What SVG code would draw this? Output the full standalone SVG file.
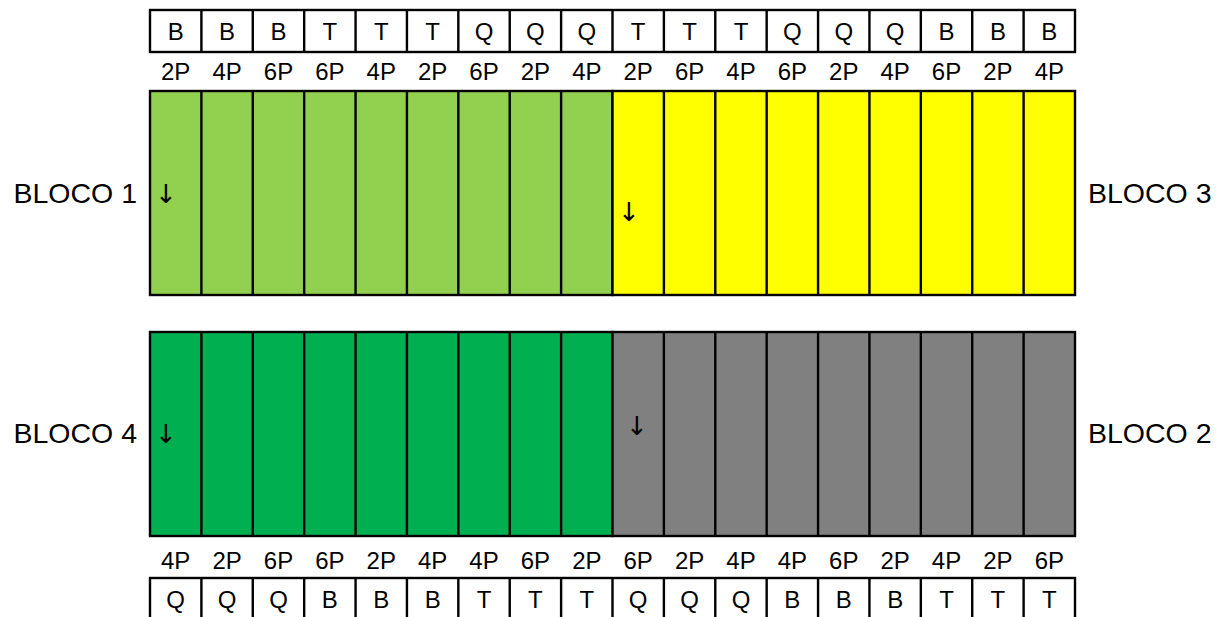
<svg xmlns="http://www.w3.org/2000/svg" width="1226" height="617" viewBox="0 0 1226 617">
<style>
.t{font-family:"Liberation Sans",Arial,sans-serif;font-size:24px;fill:#000;text-anchor:middle}
.b{font-family:"Liberation Sans",Arial,sans-serif;font-size:28.5px;fill:#000}
.a{font-family:"DejaVu Sans",sans-serif;font-size:26px;fill:#000;text-anchor:middle}
.ln{stroke:#000;stroke-width:2.4}
.w{fill:#fff}.g1{fill:#92D050}.y{fill:#FFFF00}.g2{fill:#00B050}.gr{fill:#808080}
.nf{fill:none}
</style>
<rect width="1226" height="617" fill="#fff"/>
<g id="top-codes">
<rect x="150" y="10" width="925" height="42" class="ln w"/>
<path class="ln nf" d="M201.39 10V52M252.78 10V52M304.17 10V52M355.56 10V52M406.94 10V52M458.33 10V52M509.72 10V52M561.11 10V52M612.5 10V52M663.89 10V52M715.28 10V52M766.67 10V52M818.06 10V52M869.44 10V52M920.83 10V52M972.22 10V52M1023.61 10V52"/>
<g class="t">
<text x="175.69" y="40">B</text><text x="227.08" y="40">B</text><text x="278.47" y="40">B</text><text x="329.86" y="40">T</text><text x="381.25" y="40">T</text><text x="432.64" y="40">T</text><text x="484.03" y="40">Q</text><text x="535.42" y="40">Q</text><text x="586.81" y="40">Q</text><text x="638.19" y="40">T</text><text x="689.58" y="40">T</text><text x="740.97" y="40">T</text><text x="792.36" y="40">Q</text><text x="843.75" y="40">Q</text><text x="895.14" y="40">Q</text><text x="946.53" y="40">B</text><text x="997.92" y="40">B</text><text x="1049.31" y="40">B</text>
</g>
</g>
<g id="top-doses" class="t">
<text x="175.69" y="80">2P</text><text x="227.08" y="80">4P</text><text x="278.47" y="80">6P</text><text x="329.86" y="80">6P</text><text x="381.25" y="80">4P</text><text x="432.64" y="80">2P</text><text x="484.03" y="80">6P</text><text x="535.42" y="80">2P</text><text x="586.81" y="80">4P</text><text x="638.19" y="80">2P</text><text x="689.58" y="80">6P</text><text x="740.97" y="80">4P</text><text x="792.36" y="80">6P</text><text x="843.75" y="80">2P</text><text x="895.14" y="80">4P</text><text x="946.53" y="80">6P</text><text x="997.92" y="80">2P</text><text x="1049.31" y="80">4P</text>
</g>
<g id="bloco1">
<rect x="150" y="91" width="462.5" height="204" class="ln g1"/>
<path class="ln nf" d="M201.39 91V295M252.78 91V295M304.17 91V295M355.56 91V295M406.94 91V295M458.33 91V295M509.72 91V295M561.11 91V295"/>
<text class="a" x="166" y="203">↓</text>
<text class="b" x="137" y="203" text-anchor="end">BLOCO 1</text>
</g>
<g id="bloco3">
<rect x="612.5" y="91" width="462.5" height="204" class="ln y"/>
<path class="ln nf" d="M663.89 91V295M715.28 91V295M766.67 91V295M818.06 91V295M869.44 91V295M920.83 91V295M972.22 91V295M1023.61 91V295"/>
<text class="a" x="629" y="221">↓</text>
<text class="b" x="1088" y="203">BLOCO 3</text>
</g>
<g id="bloco4">
<rect x="150" y="332" width="462.5" height="204" class="ln g2"/>
<path class="ln nf" d="M201.39 332V536M252.78 332V536M304.17 332V536M355.56 332V536M406.94 332V536M458.33 332V536M509.72 332V536M561.11 332V536"/>
<text class="a" x="166" y="443">↓</text>
<text class="b" x="137" y="443" text-anchor="end">BLOCO 4</text>
</g>
<g id="bloco2">
<rect x="612.5" y="332" width="462.5" height="204" class="ln gr"/>
<path class="ln nf" d="M663.89 332V536M715.28 332V536M766.67 332V536M818.06 332V536M869.44 332V536M920.83 332V536M972.22 332V536M1023.61 332V536"/>
<text class="a" x="637" y="435">↓</text>
<text class="b" x="1088" y="443">BLOCO 2</text>
</g>
<g id="bottom-doses" class="t">
<text x="175.69" y="569">4P</text><text x="227.08" y="569">2P</text><text x="278.47" y="569">6P</text><text x="329.86" y="569">6P</text><text x="381.25" y="569">2P</text><text x="432.64" y="569">4P</text><text x="484.03" y="569">4P</text><text x="535.42" y="569">6P</text><text x="586.81" y="569">2P</text><text x="638.19" y="569">6P</text><text x="689.58" y="569">2P</text><text x="740.97" y="569">4P</text><text x="792.36" y="569">4P</text><text x="843.75" y="569">6P</text><text x="895.14" y="569">2P</text><text x="946.53" y="569">4P</text><text x="997.92" y="569">2P</text><text x="1049.31" y="569">6P</text>
</g>
<g id="bottom-codes">
<rect x="150" y="578" width="925" height="44" class="ln w"/>
<path class="ln nf" d="M201.39 578V622M252.78 578V622M304.17 578V622M355.56 578V622M406.94 578V622M458.33 578V622M509.72 578V622M561.11 578V622M612.5 578V622M663.89 578V622M715.28 578V622M766.67 578V622M818.06 578V622M869.44 578V622M920.83 578V622M972.22 578V622M1023.61 578V622"/>
<g class="t">
<text x="175.69" y="608">Q</text><text x="227.08" y="608">Q</text><text x="278.47" y="608">Q</text><text x="329.86" y="608">B</text><text x="381.25" y="608">B</text><text x="432.64" y="608">B</text><text x="484.03" y="608">T</text><text x="535.42" y="608">T</text><text x="586.81" y="608">T</text><text x="638.19" y="608">Q</text><text x="689.58" y="608">Q</text><text x="740.97" y="608">Q</text><text x="792.36" y="608">B</text><text x="843.75" y="608">B</text><text x="895.14" y="608">B</text><text x="946.53" y="608">T</text><text x="997.92" y="608">T</text><text x="1049.31" y="608">T</text>
</g>
</g>
</svg>
